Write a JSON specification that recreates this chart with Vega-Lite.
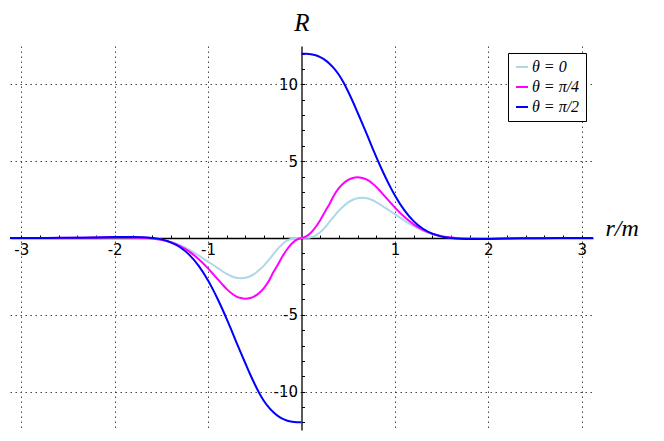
{
  "$schema": "https://vega.github.io/schema/vega-lite/v6.json",
  "width": 583,
  "height": 384,
  "autosize": {"type": "none"},
  "padding": {"left": 10, "top": 46, "right": 71, "bottom": 11},
  "background": "white",
  "config": {"view": {"stroke": null}},
  "data": {"values": [
    {"side":"L","r":-3.12,"θ = 0":0,"θ = π/4":0,"θ = π/2":0},
    {"side":"L","r":-3.0,"θ = 0":0,"θ = π/4":0,"θ = π/2":0},
    {"side":"L","r":-2.8,"θ = 0":0,"θ = π/4":0,"θ = π/2":0},
    {"side":"L","r":-2.6,"θ = 0":0.005,"θ = π/4":0.005,"θ = π/2":0.01},
    {"side":"L","r":-2.4,"θ = 0":0.015,"θ = π/4":0.015,"θ = π/2":0.02},
    {"side":"L","r":-2.2,"θ = 0":0.03,"θ = π/4":0.03,"θ = π/2":0.04},
    {"side":"L","r":-2.0,"θ = 0":0.04,"θ = π/4":0.05,"θ = π/2":0.06},
    {"side":"L","r":-1.9,"θ = 0":0.04,"θ = π/4":0.05,"θ = π/2":0.07},
    {"side":"L","r":-1.8,"θ = 0":0.03,"θ = π/4":0.04,"θ = π/2":0.07},
    {"side":"L","r":-1.7,"θ = 0":0.01,"θ = π/4":0.02,"θ = π/2":0.05},
    {"side":"L","r":-1.6,"θ = 0":-0.03,"θ = π/4":-0.03,"θ = π/2":0},
    {"side":"L","r":-1.5,"θ = 0":-0.11,"θ = π/4":-0.12,"θ = π/2":-0.09},
    {"side":"L","r":-1.4,"θ = 0":-0.25,"θ = π/4":-0.28,"θ = π/2":-0.28},
    {"side":"L","r":-1.3,"θ = 0":-0.47,"θ = π/4":-0.53,"θ = π/2":-0.6},
    {"side":"L","r":-1.2,"θ = 0":-0.77,"θ = π/4":-0.89,"θ = π/2":-1.1},
    {"side":"L","r":-1.1,"θ = 0":-1.14,"θ = π/4":-1.38,"θ = π/2":-1.82},
    {"side":"L","r":-1.0,"θ = 0":-1.55,"θ = π/4":-1.98,"θ = π/2":-2.77},
    {"side":"L","r":-0.95,"θ = 0":-1.74,"θ = π/4":-2.32,"θ = π/2":-3.33},
    {"side":"L","r":-0.9,"θ = 0":-1.94,"θ = π/4":-2.66,"θ = π/2":-3.94},
    {"side":"L","r":-0.85,"θ = 0":-2.15,"θ = π/4":-3.0,"θ = π/2":-4.59},
    {"side":"L","r":-0.8,"θ = 0":-2.34,"θ = π/4":-3.33,"θ = π/2":-5.28},
    {"side":"L","r":-0.75,"θ = 0":-2.49,"θ = π/4":-3.6,"θ = π/2":-6.0},
    {"side":"L","r":-0.7,"θ = 0":-2.59,"θ = π/4":-3.8,"θ = π/2":-6.74},
    {"side":"L","r":-0.65,"θ = 0":-2.62,"θ = π/4":-3.91,"θ = π/2":-7.46},
    {"side":"L","r":-0.6,"θ = 0":-2.59,"θ = π/4":-3.95,"θ = π/2":-8.17},
    {"side":"L","r":-0.55,"θ = 0":-2.49,"θ = π/4":-3.91,"θ = π/2":-8.87},
    {"side":"L","r":-0.5,"θ = 0":-2.32,"θ = π/4":-3.78,"θ = π/2":-9.52},
    {"side":"L","r":-0.45,"θ = 0":-2.07,"θ = π/4":-3.56,"θ = π/2":-10.12},
    {"side":"L","r":-0.4,"θ = 0":-1.78,"θ = π/4":-3.24,"θ = π/2":-10.63},
    {"side":"L","r":-0.35,"θ = 0":-1.42,"θ = π/4":-2.8,"θ = π/2":-11.03},
    {"side":"L","r":-0.3,"θ = 0":-1.05,"θ = π/4":-2.22,"θ = π/2":-11.35},
    {"side":"L","r":-0.25,"θ = 0":-0.68,"θ = π/4":-1.7,"θ = π/2":-11.6},
    {"side":"L","r":-0.2,"θ = 0":-0.37,"θ = π/4":-1.16,"θ = π/2":-11.78},
    {"side":"L","r":-0.15,"θ = 0":-0.16,"θ = π/4":-0.7,"θ = π/2":-11.9},
    {"side":"L","r":-0.1,"θ = 0":-0.05,"θ = π/4":-0.34,"θ = π/2":-11.96},
    {"side":"L","r":-0.05,"θ = 0":-0.01,"θ = π/4":-0.1,"θ = π/2":-11.99},
    {"side":"L","r":0,"θ = 0":0,"θ = π/4":0,"θ = π/2":-12.0},
    {"side":"R","r":0,"θ = 0":0,"θ = π/4":0,"θ = π/2":12.0},
    {"side":"R","r":0.05,"θ = 0":0.01,"θ = π/4":0.1,"θ = π/2":11.99},
    {"side":"R","r":0.1,"θ = 0":0.05,"θ = π/4":0.34,"θ = π/2":11.96},
    {"side":"R","r":0.15,"θ = 0":0.16,"θ = π/4":0.7,"θ = π/2":11.9},
    {"side":"R","r":0.2,"θ = 0":0.37,"θ = π/4":1.16,"θ = π/2":11.78},
    {"side":"R","r":0.25,"θ = 0":0.68,"θ = π/4":1.7,"θ = π/2":11.6},
    {"side":"R","r":0.3,"θ = 0":1.05,"θ = π/4":2.22,"θ = π/2":11.35},
    {"side":"R","r":0.35,"θ = 0":1.42,"θ = π/4":2.8,"θ = π/2":11.03},
    {"side":"R","r":0.4,"θ = 0":1.78,"θ = π/4":3.24,"θ = π/2":10.63},
    {"side":"R","r":0.45,"θ = 0":2.07,"θ = π/4":3.56,"θ = π/2":10.12},
    {"side":"R","r":0.5,"θ = 0":2.32,"θ = π/4":3.78,"θ = π/2":9.52},
    {"side":"R","r":0.55,"θ = 0":2.49,"θ = π/4":3.91,"θ = π/2":8.87},
    {"side":"R","r":0.6,"θ = 0":2.59,"θ = π/4":3.95,"θ = π/2":8.17},
    {"side":"R","r":0.65,"θ = 0":2.62,"θ = π/4":3.91,"θ = π/2":7.46},
    {"side":"R","r":0.7,"θ = 0":2.59,"θ = π/4":3.8,"θ = π/2":6.74},
    {"side":"R","r":0.75,"θ = 0":2.49,"θ = π/4":3.6,"θ = π/2":6.0},
    {"side":"R","r":0.8,"θ = 0":2.34,"θ = π/4":3.33,"θ = π/2":5.28},
    {"side":"R","r":0.85,"θ = 0":2.15,"θ = π/4":3.0,"θ = π/2":4.59},
    {"side":"R","r":0.9,"θ = 0":1.94,"θ = π/4":2.66,"θ = π/2":3.94},
    {"side":"R","r":0.95,"θ = 0":1.74,"θ = π/4":2.32,"θ = π/2":3.33},
    {"side":"R","r":1.0,"θ = 0":1.55,"θ = π/4":1.98,"θ = π/2":2.77},
    {"side":"R","r":1.1,"θ = 0":1.14,"θ = π/4":1.38,"θ = π/2":1.82},
    {"side":"R","r":1.2,"θ = 0":0.77,"θ = π/4":0.89,"θ = π/2":1.1},
    {"side":"R","r":1.3,"θ = 0":0.47,"θ = π/4":0.53,"θ = π/2":0.6},
    {"side":"R","r":1.4,"θ = 0":0.25,"θ = π/4":0.28,"θ = π/2":0.28},
    {"side":"R","r":1.5,"θ = 0":0.11,"θ = π/4":0.12,"θ = π/2":0.09},
    {"side":"R","r":1.6,"θ = 0":0.03,"θ = π/4":0.03,"θ = π/2":0},
    {"side":"R","r":1.7,"θ = 0":-0.01,"θ = π/4":-0.02,"θ = π/2":-0.05},
    {"side":"R","r":1.8,"θ = 0":-0.03,"θ = π/4":-0.04,"θ = π/2":-0.07},
    {"side":"R","r":1.9,"θ = 0":-0.04,"θ = π/4":-0.05,"θ = π/2":-0.07},
    {"side":"R","r":2.0,"θ = 0":-0.04,"θ = π/4":-0.05,"θ = π/2":-0.06},
    {"side":"R","r":2.2,"θ = 0":-0.03,"θ = π/4":-0.03,"θ = π/2":-0.04},
    {"side":"R","r":2.4,"θ = 0":-0.015,"θ = π/4":-0.015,"θ = π/2":-0.02},
    {"side":"R","r":2.6,"θ = 0":-0.005,"θ = π/4":-0.005,"θ = π/2":-0.01},
    {"side":"R","r":2.8,"θ = 0":0,"θ = π/4":0,"θ = π/2":0},
    {"side":"R","r":3.0,"θ = 0":0,"θ = π/4":0,"θ = π/2":0},
    {"side":"R","r":3.12,"θ = 0":0,"θ = π/4":0,"θ = π/2":0}
  ]},
  "transform": [{"fold": ["θ = 0", "θ = π/4", "θ = π/2"], "as": ["series", "R"]}],
  "mark": {"type": "line", "strokeWidth": 2, "interpolate": "monotone"},
  "encoding": {
    "x": {
      "field": "r", "type": "quantitative",
      "scale": {"domain": [-3.12, 3.12], "nice": false, "zero": false},
      "axis": {
        "orient": "bottom", "offset": -192,
        "values": [-3,-2.8,-2.6,-2.4,-2.2,-2,-1.8,-1.6,-1.4,-1.2,-1,-0.8,-0.6,-0.4,-0.2,0.2,0.4,0.6,0.8,1,1.2,1.4,1.6,1.8,2,2.2,2.4,2.6,2.8,3],
        "labelExpr": "datum.value % 1 != 0 || datum.value == 0 ? '' : (datum.value < 0 ? '-' + abs(datum.value) : '' + datum.value)",
        "labelOverlap": false, "labelFlush": false, "labelBound": false,
        "labelFont": "DejaVu Sans", "labelFontSize": 15, "labelColor": "black", "labelPadding": 7,
        "domainColor": "black", "domainWidth": 1.3,
        "tickColor": "black", "tickSize": -3, "tickWidth": 1,
        "grid": true, "gridColor": "#333333", "gridDash": [1.5, 3.5], "gridWidth": 1,
        "gridOpacity": {"condition": {"test": "datum.value % 1 == 0 && datum.value != 0", "value": 0.9}, "value": 0},
        "title": "r/m", "titleFont": "Liberation Serif", "titleFontStyle": "italic", "titleFontWeight": "normal",
        "titleFontSize": 24, "titleColor": "black", "titleAngle": 0, "titleAlign": "left", "titleBaseline": "alphabetic",
        "titleX": 595, "titleY": -3
      }
    },
    "y": {
      "field": "R", "type": "quantitative",
      "scale": {"domain": [-12.5, 12.5], "nice": false, "zero": false},
      "axis": {
        "orient": "left", "offset": -291.5,
        "values": [-12,-11,-10,-9,-8,-7,-6,-5,-4,-3,-2,-1,1,2,3,4,5,6,7,8,9,10,11,12],
        "labelExpr": "datum.value % 5 != 0 || datum.value == 0 ? '' : (datum.value < 0 ? '-' + abs(datum.value) : '' + datum.value)",
        "labelOverlap": false, "labelFlush": false, "labelBound": false,
        "labelFont": "DejaVu Sans", "labelFontSize": 15, "labelColor": "black", "labelPadding": 7,
        "domainColor": "black", "domainWidth": 1.3,
        "tickColor": "black", "tickSize": -3, "tickWidth": 1,
        "grid": true, "gridColor": "#333333", "gridDash": [1.5, 3.5], "gridWidth": 1,
        "gridOpacity": {"condition": {"test": "datum.value % 5 == 0 && datum.value != 0", "value": 0.9}, "value": 0},
        "title": "R", "titleFont": "Liberation Serif", "titleFontStyle": "italic", "titleFontWeight": "normal",
        "titleFontSize": 25, "titleColor": "black", "titleAngle": 0, "titleAlign": "center", "titleBaseline": "alphabetic",
        "titleX": 0, "titleY": -16
      }
    },
    "color": {
      "field": "series", "type": "nominal",
      "scale": {"domain": ["θ = 0", "θ = π/4", "θ = π/2"], "range": ["#add8e6", "#ff00ff", "#0000ff"]},
      "legend": {
        "title": null, "orient": "top-right", "offset": 7,
        "strokeColor": "black", "fillColor": "white", "padding": 6, "cornerRadius": 0,
        "symbolType": "stroke", "symbolSize": 144, "symbolStrokeWidth": 2,
        "labelFont": "Liberation Serif", "labelFontStyle": "italic", "labelFontSize": 16, "labelColor": "black",
        "labelOffset": 2, "rowPadding": 4
      }
    },
    "detail": {"field": "side", "type": "nominal"}
  }
}
